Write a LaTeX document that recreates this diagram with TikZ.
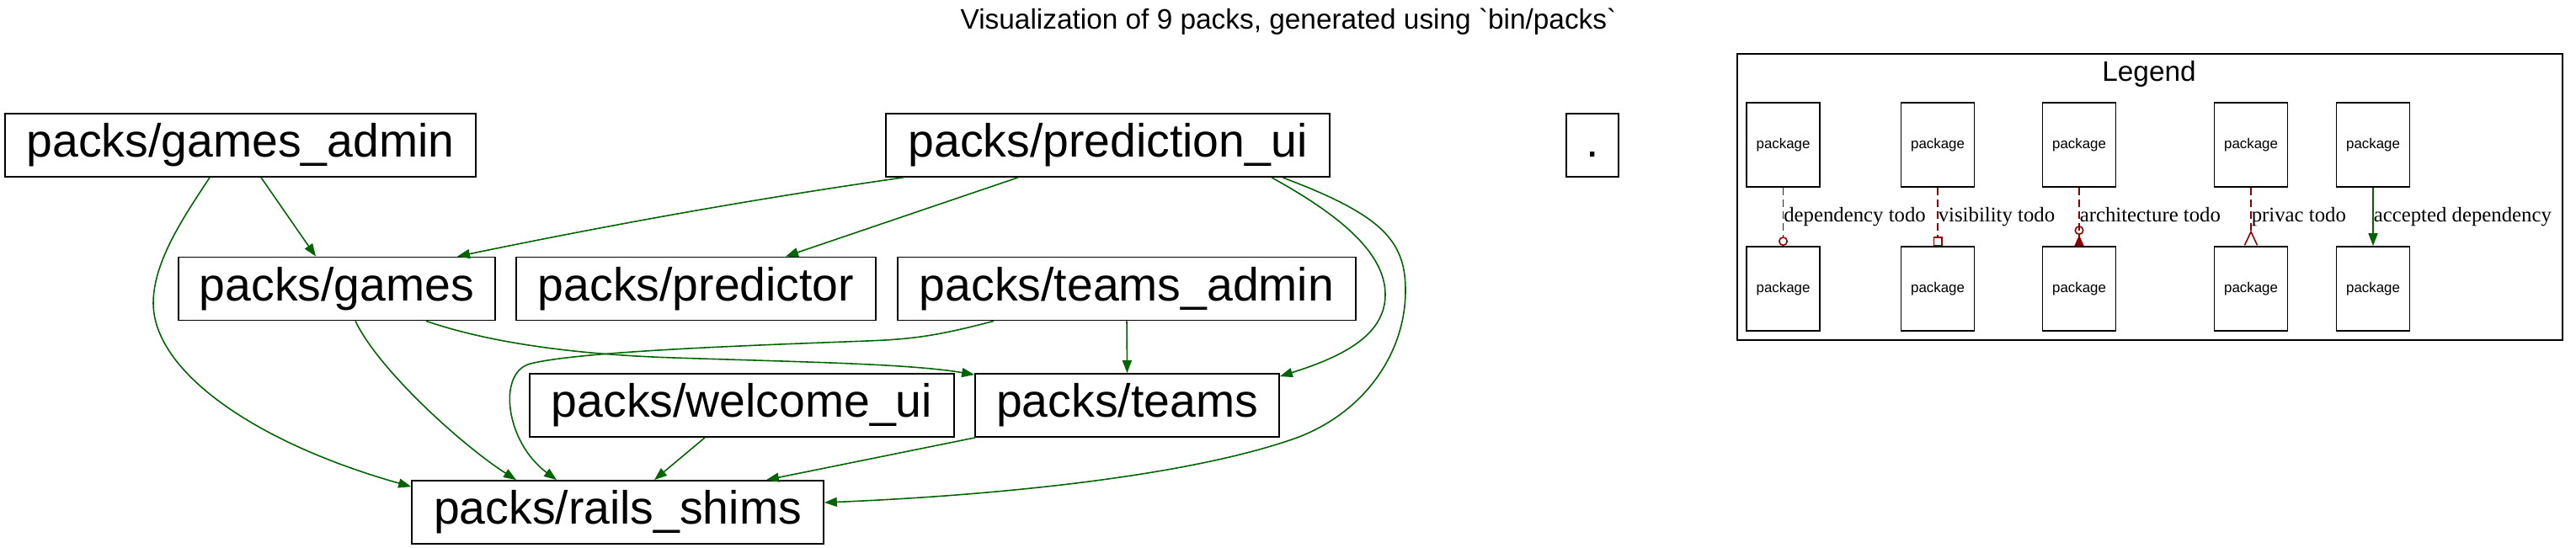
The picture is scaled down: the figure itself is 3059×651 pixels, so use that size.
\documentclass[tikz,border=0pt]{standalone}
\usepackage{fontspec}
\setmainfont{Liberation Sans}[Ligatures=TeXOff]
\newfontfamily\labelfont{Liberation Serif}
\usetikzlibrary{arrows.meta, calc}
\definecolor{depgreen}{HTML}{006400}
\definecolor{todored}{HTML}{8B0000}
\tikzset{every picture/.style={x=0.02cm, y=0.02cm}}
\tikzset{
  packbox/.style={draw, line width=1pt, inner sep=0, minimum height=1.5cm,
    text height=23pt, text depth=6.6pt, font=\fontsize{31.5}{36}\selectfont},
  legendbox/.style={draw, line width=1pt, inner sep=0, minimum width=1.74cm,
    minimum height=2cm, font=\fontsize{9.6}{11}\selectfont},
  depline/.style={draw=depgreen, line width=0.9pt, -{Triangle[length=0.3cm, width=0.22cm]}},
  todoline/.style={draw=todored, line width=0.9pt, dash pattern=on 0.18cm off 0.1cm},
  edgelabel/.style={right, inner sep=0, text height=9.6pt, text depth=3.1pt,
    font=\labelfont\fontsize{14.1}{16}\selectfont}
}

\begin{document}
\begin{tikzpicture}
      \useasboundingbox (0,0) rectangle (3059,-651);
      \def\rowa{-172.5}
      \def\rowb{-343}
      \def\rowc{-481.5}
      \def\rowd{-608.5}
      \node[font=\fontsize{19}{22}\selectfont] (title) at (1530,-26)
        {Visualization of 9 packs, generated using `bin/packs`};

      % Packages
      \node[packbox, minimum width=11.18cm] (ga) at (285.5,\rowa) {packs/games\_admin};
      \node[packbox, minimum width=10.54cm] (pui) at (1315.5,\rowa) {packs/prediction\_ui};
      \node[packbox, minimum width=1.24cm] (root) at (1891,\rowa) {.};
      \node[packbox, minimum width=7.52cm] (gm) at (400,\rowb) {packs/games};
      \node[packbox, minimum width=8.54cm] (pr) at (826.5,\rowb) {packs/predictor};
      \node[packbox, minimum width=10.88cm] (ta) at (1338,\rowb) {packs/teams\_admin};
      \node[packbox, minimum width=10.08cm] (wu) at (881,\rowc) {packs/welcome\_ui};
      \node[packbox, minimum width=7.22cm] (tm) at (1338.5,\rowc) {packs/teams};
      \node[packbox, minimum width=9.78cm] (rs) at (733.5,\rowd) {packs/rails\_shims};

      % Dependencies
      \draw[depline] ($(ga.south)+(24.5,0)$) -- ($(gm.north)+(-25,0)$);
      \draw[depline] ($(ga.south)+(-36.5,0)$) .. controls (220,-255) and (182,-310) .. (182,-360)
        .. controls (182,-440) and (300,-525) .. ($(rs.north west)+(0,-8)$);
      \draw[depline] ($(pui.south)+(-242.5,0)$) .. controls (896,-236) and (720,-268) .. ($(gm.north)+(143,0)$);
      \draw[depline] ($(pui.south)+(-106.5,0)$) -- ($(pr.north)+(106.5,0)$);
      \draw[depline] ($(pui.south)+(194.5,0)$) .. controls (1590,-255) and (1645,-300) .. (1645,-350)
        .. controls (1645,-400) and (1590,-425) .. ($(tm.north east)+(0,-4)$);
      \draw[depline] ($(pui.south)+(207.5,0)$) .. controls (1640,-255) and (1669,-285) .. (1669,-345)
        .. controls (1669,-420) and (1620,-490) .. (1540,-520)
        .. controls (1400,-570) and (1150,-590) .. ($(rs.east)+(0,11.5)$);
      \draw[depline] ($(gm.south)+(22,0)$) .. controls (450,-440) and (550,-530) .. ($(rs.north)+(-120.5,0)$);
      \draw[depline] ($(gm.south)+(106,0)$) .. controls (560,-400) and (650,-420) .. (800,-425)
        .. controls (950,-430) and (1080,-432) .. ($(tm.north west)+(0,-2)$);
      \draw[depline] ($(ta.south)+(-158,0)$) .. controls (1110,-400) and (1080,-403) .. (1030,-405)
        .. controls (900,-410) and (690,-417) .. (630,-432)
        .. controls (590,-442) and (600,-525) .. ($(rs.north)+(-72.5,0)$);
      \draw[depline] (ta.south) -- (tm.north);
      \draw[depline] ($(wu.south)+(-44,0)$) -- ($(rs.north)+(43.5,0)$);
      \draw[depline] ($(tm.south west)+(1,0)$) -- ($(rs.north)+(176.5,0)$);

      % Legend
      \def\legtop{-172}
      \def\legbot{-343}
      \draw[line width=1pt] (2063,-64) rectangle (3043,-404);
      \node[font=\fontsize{19}{22}\selectfont] (legend) at (2552,-88) {Legend};
      \node[legendbox] (lt1) at (2117.5,\legtop) {package};
      \node[legendbox] (lb1) at (2117.5,\legbot) {package};
      \node[legendbox] (lt2) at (2301,\legtop) {package};
      \node[legendbox] (lb2) at (2301,\legbot) {package};
      \node[legendbox] (lt3) at (2469,\legtop) {package};
      \node[legendbox] (lb3) at (2469,\legbot) {package};
      \node[legendbox] (lt4) at (2673,\legtop) {package};
      \node[legendbox] (lb4) at (2673,\legbot) {package};
      \node[legendbox] (lt5) at (2818,\legtop) {package};
      \node[legendbox] (lb5) at (2818,\legbot) {package};

      % Legend edges
      \draw[todoline, -{Circle[open, length=0.22cm]}] (lt1) -- node[edgelabel] {dependency todo} (lb1);
      \draw[todoline, -{Square[open, length=0.22cm]}] (lt2) -- node[edgelabel] {visibility todo} (lb2);
      \draw[todoline, -{Circle[open, length=0.22cm] Triangle[reversed, length=0.26cm, width=0.22cm]}]
        (lt3) -- node[edgelabel] {architecture todo} (lb3);
      \draw[todoline, -{Straight Barb[reversed, length=0.32cm, width=0.3cm]}]
        (lt4) -- node[edgelabel] {privac todo} (lb4);
      \draw[depline] (lt5) -- node[edgelabel] {accepted dependency} (lb5);
    \end{tikzpicture}
\end{document}
